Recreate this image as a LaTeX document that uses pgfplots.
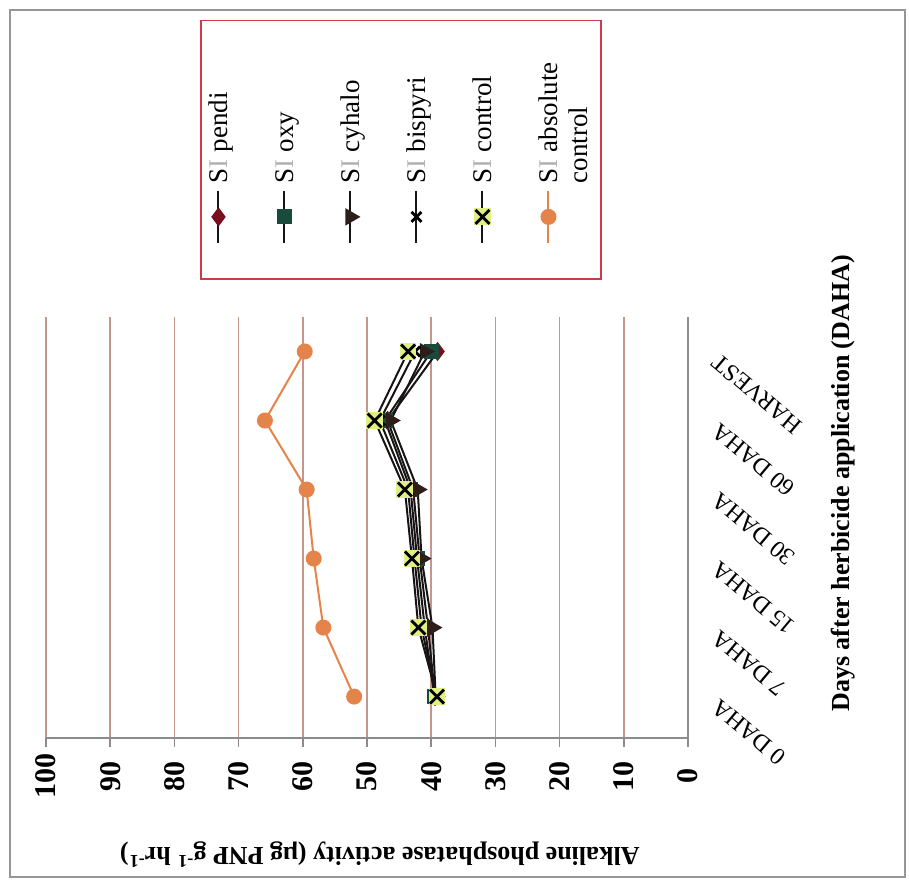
\documentclass[border=0pt]{standalone}
\usepackage{fontspec}
\setmainfont{Liberation Serif}
\usepackage{pgfplots}
\pgfplotsset{compat=1.18}
\usetikzlibrary{plotmarks}

\definecolor{gridc}{RGB}{196,150,140}
\definecolor{axisc}{RGB}{140,140,140}
\definecolor{framec}{RGB}{150,150,150}
\definecolor{legc}{RGB}{205,60,70}
\definecolor{absc}{RGB}{228,132,74}
\definecolor{pendic}{RGB}{120,15,30}
\definecolor{oxyc}{RGB}{25,75,60}
\definecolor{cyhc}{RGB}{45,30,25}
\definecolor{linec}{RGB}{25,20,20}
\definecolor{ctrlfill}{RGB}{225,238,130}

% cross on a pale yellow-green square
\pgfdeclareplotmark{xbox}{%
  \begin{pgfscope}%
  \pgfpathrectangle{\pgfqpoint{-1.2\pgfplotmarksize}{-1.2\pgfplotmarksize}}{\pgfqpoint{2.4\pgfplotmarksize}{2.4\pgfplotmarksize}}%
  \pgfsetfillcolor{ctrlfill}\pgfusepathqfill
  \end{pgfscope}%
  \pgfpathmoveto{\pgfqpoint{-\pgfplotmarksize}{-\pgfplotmarksize}}%
  \pgfpathlineto{\pgfqpoint{\pgfplotmarksize}{\pgfplotmarksize}}%
  \pgfpathmoveto{\pgfqpoint{-\pgfplotmarksize}{\pgfplotmarksize}}%
  \pgfpathlineto{\pgfqpoint{\pgfplotmarksize}{-\pgfplotmarksize}}%
  \pgfusepathqstroke
}

\begin{document}
\begin{tikzpicture}
\begin{axis}[
  scale only axis,
  width=321pt, height=210.5pt,
  x dir=reverse,
  xmin=0, xmax=100,
  ymin=-0.6, ymax=5.5,
  axis x line*=bottom,
  axis y line*=right,
  axis line style={axisc, line width=1pt},
  xtick={0,10,...,100},
  ytick={0,1,2,3,4,5},
  yticklabels={0 DAHA,7 DAHA,15 DAHA,30 DAHA,60 DAHA,HARVEST},
  xmajorgrids,
  grid style={gridc, line width=0.8pt},
  tick align=outside,
  major tick length=4.5pt,
  xtick style={axisc, line width=0.8pt},
  ytick style={draw=none},
  /pgf/number format/assume math mode=true,
  xticklabel style={yshift=-14.5pt, rotate=90, anchor=center,
    font=\bfseries\fontsize{15}{17}\selectfont},
  yticklabel style={xshift=6.5pt, yshift=-1.5pt, rotate=140, anchor=east,
    font=\fontsize{12}{14}\selectfont},
  xlabel={Alkaline phosphatase activity (µg PNP g\textsuperscript{-1} hr\textsuperscript{-1})},
  xlabel style={at={(axis cs:48,-2.29)}, anchor=center, rotate=180,
    font=\bfseries\fontsize{13}{15}\selectfont},
  ylabel={Days after herbicide application (DAHA)},
  ylabel style={at={(axis cs:-24.1,3.09)}, anchor=center, rotate=0,
    font=\bfseries\fontsize{13}{15}\selectfont},
  legend columns=6,
  legend image code/.code={
    \draw[overlay, mark repeat=2, mark phase=2, #1]
      plot coordinates {(8.3pt,-1.5pt) (8.3pt,-14.5pt) (8.3pt,-27.5pt)};
    \path (0pt,-26pt);
  },
  legend style={
    at={(axis cs:76,9.81)}, anchor=north west,
    draw=legc, line width=0.8pt, fill=white,
    inner xsep=0pt, inner ysep=19pt,
    column sep=0pt,
    /tikz/every even column/.append style={column sep=13pt},
    nodes={rotate=90, anchor=north west, inner sep=2pt, align=left,
      text depth=, font=\fontsize{13.5}{15}\selectfont},
  },
]
\coordinate (A) at (axis cs:100,-0.6);

\addplot[linec, line width=1pt, mark=diamond*, mark size=4pt,
  mark options={fill=pendic, draw=pendic}]
  coordinates {(39.4,0) (40.5,1) (41.8,2) (42.8,3) (46.8,4) (39.0,5)};
\addlegendentry{S\textcolor{gray!60}{I} pendi\strut}

\addplot[linec, line width=1pt, mark=square*, mark size=3.3pt,
  mark options={fill=oxyc, draw=oxyc}]
  coordinates {(39.5,0) (41.0,1) (42.2,2) (43.2,3) (47.2,4) (40.0,5)};
\addlegendentry{S\textcolor{gray!60}{I} oxy\strut}

\addplot[linec, line width=1pt, mark=triangle*, mark size=4pt,
  mark options={fill=cyhc, draw=cyhc, rotate=-90}]
  coordinates {(39.3,0) (39.8,1) (41.5,2) (42.1,3) (46.3,4) (41.0,5)};
\addlegendentry{S\textcolor{gray!60}{I} cyhalo\strut}

\addplot[linec, line width=1pt, mark=x, mark size=3.5pt,
  mark options={draw=black, line width=1.4pt}]
  coordinates {(39.2,0) (41.5,1) (42.6,2) (43.6,3) (48.0,4) (42.5,5)};
\addlegendentry{S\textcolor{gray!60}{I} bispyri\strut}

\addplot[linec, line width=1pt, mark=xbox, mark size=3.5pt,
  mark options={draw=black, line width=1.4pt}]
  coordinates {(39.1,0) (42.0,1) (43.0,2) (44.1,3) (48.8,4) (43.6,5)};
\addlegendentry{S\textcolor{gray!60}{I} control\strut}

\addplot[absc, line width=1pt, mark=*, mark size=3.5pt,
  mark options={fill=absc, draw=absc}]
  coordinates {(52.0,0) (56.8,1) (58.3,2) (59.4,3) (65.9,4) (59.7,5)};
\addlegendentry{S\textcolor{gray!60}{I} absolute\strut\\control\strut}
\end{axis}

% outer frame of the figure
\draw[framec, line width=1pt]
  ([shift={(-18pt,-69.5pt)}]A) rectangle ([shift={(429.5pt,364pt)}]A);
\path ([shift={(-23pt,-72pt)}]A) rectangle ([shift={(431.5pt,369pt)}]A);
\end{tikzpicture}
\end{document}
